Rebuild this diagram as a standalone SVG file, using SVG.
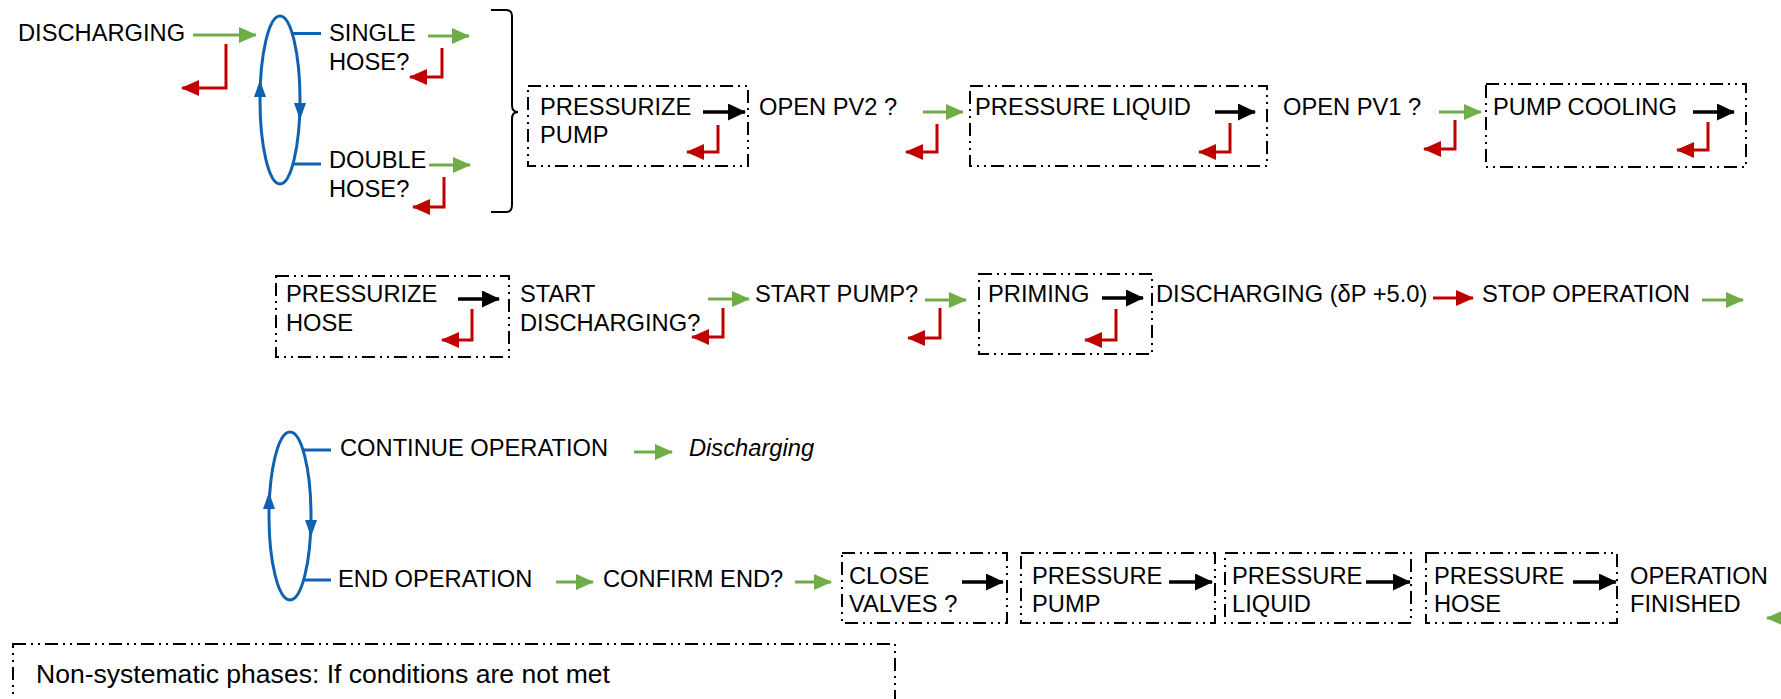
<svg xmlns="http://www.w3.org/2000/svg" width="1781" height="699" viewBox="0 0 1781 699">
<style>
text{font-family:"Liberation Sans",Arial,sans-serif;font-size:23.7px;fill:#000}
.it{font-style:italic}
.box{fill:none;stroke:#000;stroke-width:2;stroke-dasharray:13 5 2 5 2 5}
.g{stroke:#70ad47;stroke-width:3;fill:none;marker-end:url(#mg)}
.r{stroke:#c00000;stroke-width:3;fill:none;marker-end:url(#mr)}
.k{stroke:#000;stroke-width:3.5;fill:none;marker-end:url(#mk)}
.bl{stroke:#0f62b0;stroke-width:3;fill:none}
.bh{fill:#0f62b0}
</style>
<defs>
<marker id="mg" markerUnits="userSpaceOnUse" markerWidth="18" markerHeight="16" refX="17" refY="8" orient="auto"><path d="M0,0 L18,8 L0,16 z" fill="#70ad47"/></marker>
<marker id="mr" markerUnits="userSpaceOnUse" markerWidth="18" markerHeight="16" refX="17" refY="8" orient="auto"><path d="M0,0 L18,8 L0,16 z" fill="#c00000"/></marker>
<marker id="mk" markerUnits="userSpaceOnUse" markerWidth="18" markerHeight="17" refX="17" refY="8.5" orient="auto"><path d="M0,0 L18,8.5 L0,17 z" fill="#000"/></marker>
</defs>

<g id="n-discharging"><text x="18" y="41">DISCHARGING</text></g>
<g id="n-cycle1">
<ellipse class="bl" cx="280" cy="100" rx="20" ry="84"/>
<polygon class="bh" points="260,80 254,97 266,97"/>
<polygon class="bh" points="300,120 294,103 306,103"/>
<line class="bl" x1="292" y1="33.5" x2="321" y2="33.5"/>
<line class="bl" x1="293" y1="164" x2="321" y2="164"/>
</g>
<g id="n-single"><text x="329" y="41">SINGLE</text><text x="329" y="70">HOSE?</text></g>
<g id="n-double"><text x="329" y="168">DOUBLE</text><text x="329" y="197">HOSE?</text></g>
<g id="n-brace"><path d="M491,10 H506 Q512,10 512,16 V105 Q512,112 518,112 Q512,112 512,119 V205 Q512,212 506,212 H491" fill="none" stroke="#000" stroke-width="2"/></g>

<g id="n-pressurize-pump"><rect class="box" x="528" y="86" width="220" height="80"/><text x="540" y="115">PRESSURIZE</text><text x="540" y="143">PUMP</text></g>
<g id="n-open-pv2"><text x="759" y="115">OPEN PV2 ?</text></g>
<g id="n-pressure-liquid"><rect class="box" x="970" y="86" width="297" height="80"/><text x="975" y="115">PRESSURE LIQUID</text></g>
<g id="n-open-pv1"><text x="1283" y="115">OPEN PV1 ?</text></g>
<g id="n-pump-cooling"><rect class="box" x="1486" y="84" width="260" height="83"/><text x="1493" y="115">PUMP COOLING</text></g>

<g id="n-pressurize-hose"><rect class="box" x="276" y="276" width="233" height="81"/><text x="286" y="302">PRESSURIZE</text><text x="286" y="331">HOSE</text></g>
<g id="n-start-discharging"><text x="520" y="302">START</text><text x="520" y="331">DISCHARGING?</text></g>
<g id="n-start-pump"><text x="755" y="302">START PUMP?</text></g>
<g id="n-priming"><rect class="box" x="979" y="274" width="173" height="80"/><text x="988" y="302">PRIMING</text></g>
<g id="n-discharging-dp"><text x="1156" y="302">DISCHARGING (δP +5.0)</text></g>
<g id="n-stop-operation"><text x="1482" y="302">STOP OPERATION</text></g>

<g id="n-cycle2">
<ellipse class="bl" cx="290" cy="516" rx="21" ry="84"/>
<polygon class="bh" points="269,492 263,509 275,509"/>
<polygon class="bh" points="311,537 305,520 317,520"/>
<line class="bl" x1="303" y1="450" x2="331" y2="450"/>
<line class="bl" x1="303" y1="580" x2="331" y2="580"/>
</g>
<g id="n-continue"><text x="340" y="456">CONTINUE OPERATION</text></g>
<g id="n-discharging-it"><text class="it" x="689" y="456">Discharging</text></g>
<g id="n-end-operation"><text x="338" y="587">END OPERATION</text></g>
<g id="n-confirm-end"><text x="603" y="587">CONFIRM END?</text></g>
<g id="n-close-valves"><rect class="box" x="842" y="553" width="165" height="70"/><text x="849" y="584">CLOSE</text><text x="849" y="612">VALVES ?</text></g>
<g id="n-pressure-pump"><rect class="box" x="1021" y="553" width="194" height="70"/><text x="1032" y="584">PRESSURE</text><text x="1032" y="612">PUMP</text></g>
<g id="n-pressure-liquid2"><rect class="box" x="1225" y="553" width="186" height="70"/><text x="1232" y="584">PRESSURE</text><text x="1232" y="612">LIQUID</text></g>
<g id="n-pressure-hose"><rect class="box" x="1426" y="553" width="191" height="70"/><text x="1434" y="584">PRESSURE</text><text x="1434" y="612">HOSE</text></g>
<g id="n-finished"><text x="1630" y="584">OPERATION</text><text x="1630" y="612">FINISHED</text></g>

<g id="n-legend"><rect class="box" x="13" y="644" width="882" height="80"/><text x="36" y="683" style="font-size:25.5px" textLength="574" lengthAdjust="spacingAndGlyphs">Non-systematic phases: If conditions are not met</text></g>

<g id="connectors">
<line class="g" x1="193" y1="35" x2="256" y2="35"/>
<path class="r" d="M226,44 V88 H182"/>
<line class="g" x1="428" y1="36" x2="469" y2="36"/>
<path class="r" d="M442,48 V77 H410"/>
<line class="g" x1="429" y1="165" x2="470" y2="165"/>
<path class="r" d="M444,177 V207 H413"/>
<line class="k" x1="703" y1="112" x2="745" y2="112"/>
<path class="r" d="M718,125 V152 H687"/>
<line class="g" x1="923" y1="112" x2="963" y2="112"/>
<path class="r" d="M937,124 V152 H906"/>
<line class="k" x1="1215" y1="112" x2="1255" y2="112"/>
<path class="r" d="M1230,123 V152 H1199"/>
<line class="g" x1="1439" y1="112" x2="1481" y2="112"/>
<path class="r" d="M1455,120 V149 H1424"/>
<line class="k" x1="1693" y1="112" x2="1734" y2="112"/>
<path class="r" d="M1708,122 V150 H1677"/>
<line class="k" x1="458" y1="299" x2="499" y2="299"/>
<path class="r" d="M472,309 V340 H442"/>
<line class="g" x1="708" y1="299" x2="749" y2="299"/>
<path class="r" d="M723,308 V337 H692"/>
<line class="g" x1="925" y1="300" x2="966" y2="300"/>
<path class="r" d="M940,308 V338 H908"/>
<line class="k" x1="1102" y1="298" x2="1143" y2="298"/>
<path class="r" d="M1116,309 V340 H1085"/>
<line class="r" x1="1433" y1="298" x2="1473" y2="298"/>
<line class="g" x1="1702" y1="300" x2="1743" y2="300"/>
<line class="g" x1="634" y1="452" x2="672" y2="452"/>
<line class="g" x1="556" y1="582" x2="593" y2="582"/>
<line class="g" x1="795" y1="582" x2="831" y2="582"/>
<line class="k" x1="962" y1="582" x2="1003" y2="582"/>
<line class="k" x1="1169" y1="582" x2="1212" y2="582"/>
<line class="k" x1="1366" y1="582" x2="1410" y2="582"/>
<line class="k" x1="1573" y1="582" x2="1616" y2="582"/>
<line class="g" x1="1795" y1="618" x2="1767" y2="618"/>
</g>
</svg>
